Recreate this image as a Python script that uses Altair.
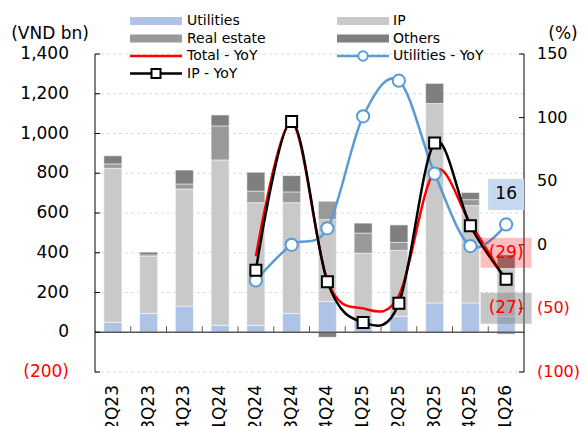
import altair as alt
import pandas as pd

# ---------------- data ----------------
quarters = ["2Q23", "3Q23", "4Q23", "1Q24", "2Q24", "3Q24",
            "4Q24", "1Q25", "2Q25", "3Q25", "4Q25", "1Q26"]
utilities = [50, 95, 132, 35, 35, 95, 155, 70, 80, 147, 147, 80]
ip = [775, 286, 589, 832, 617, 557, 412, 328, 332, 1004, 490, 240]
real_estate = [22, 8, 25, 171, 58, 54, 92, 101, 40, 0, 30, -10]
others = [41, 14, 70, 55, 95, 82, -25, 50, 88, 101, 36, 70]

yoy_quarters = ["2Q24", "3Q24", "4Q24", "1Q25", "2Q25", "3Q25", "4Q25", "1Q26"]
total_yoy = [-9, 96, -28, -50, -40, 58, 17, -29]
ip_yoy = [-20, 97, -29, -61, -46, 80, 15, -27]
util_yoy = [-28, 0, 13, 101, 129, 56, -1, 16]

left_ticks = [-200, 0, 200, 400, 600, 800, 1000, 1200, 1400]
right_ticks = [-100, -50, 0, 50, 100, 150]

segments = ["Utilities", "IP", "Real estate", "Others"]
seg_colors = ["#aec3e6", "#c9c9c9", "#999999", "#7f7f7f"]

# data labels of the last quarter
lab_values = [16, -29, -27]
lab_texts = ["16", "(29)", "(27)"]

FONT = "DejaVu Sans"
W, H = 429, 318
RED = "#ff0000"
BLUE = "#5b9bd5"

xscale = alt.Scale(domain=quarters, paddingInner=0, paddingOuter=0)
yl_scale = alt.Scale(domain=[-200, 1400], nice=False, zero=False)
yr_scale = alt.Scale(domain=[-100, 150], nice=False, zero=False)


def acc(v):
    return f"({abs(v):,})" if v < 0 else f"{v:,}"


one = pd.DataFrame({"a": [0]})

# ---------------- left group: bars + left axis ----------------
rows = []
for i, q in enumerate(quarters):
    for k, (s, vals) in enumerate(zip(segments, [utilities, ip, real_estate, others])):
        rows.append({"quarter": q, "segment": s, "order": k, "value": vals[i]})
bar_df = pd.DataFrame(rows)

lt_df = pd.DataFrame({"v": left_ticks,
                      "lbl": [acc(v) for v in left_ticks],
                      "col": [RED if v < 0 else "black" for v in left_ticks]})

grid = alt.Chart(lt_df).mark_rule(color="#d9d9d9", strokeWidth=1, strokeDash=[3, 3]).encode(
    x=alt.value(0), x2=alt.value(W),
    y=alt.Y("v:Q", scale=yl_scale, axis=None))

bars = alt.Chart(bar_df).mark_bar(size=18, stroke="white", strokeWidth=0.5).encode(
    x=alt.X("quarter:N", scale=xscale, axis=None),
    y=alt.Y("value:Q", stack="zero", scale=yl_scale, axis=None),
    color=alt.Color("segment:N", scale=alt.Scale(domain=segments, range=seg_colors),
                    legend=None),
    order=alt.Order("order:Q"),
)

zero_df = pd.DataFrame({"v": [0]})
zero_line = alt.Chart(zero_df).mark_rule(color="#595959", strokeWidth=1.5).encode(
    x=alt.value(0), x2=alt.value(W),
    y=alt.Y("v:Q", scale=yl_scale, axis=None))

xt_df = pd.DataFrame({"quarter": quarters[1:], "v": [0] * (len(quarters) - 1)})
x_ticks = alt.Chart(xt_df).mark_rule(color="#595959", strokeWidth=1, y2Offset=-6).encode(
    x=alt.X("quarter:N", bandPosition=0, scale=xscale, axis=None),
    y=alt.Y("v:Q", scale=yl_scale, axis=None),
    y2="v:Q",
)

l_ticks = alt.Chart(lt_df).mark_rule(color="black", strokeWidth=1).encode(
    x=alt.value(0), x2=alt.value(5),
    y=alt.Y("v:Q", scale=yl_scale, axis=None))

l_domain = alt.Chart(one).mark_rule(color="black", strokeWidth=1).encode(
    x=alt.value(0), y=alt.value(0), y2=alt.value(H))

l_labels = alt.Chart(lt_df).mark_text(font=FONT, fontSize=17, align="right",
                                      baseline="middle").encode(
    x=alt.value(-26),
    y=alt.Y("v:Q", scale=yl_scale, axis=None),
    text="lbl:N",
    color=alt.Color("col:N", scale=None))

xl_df = pd.DataFrame({"quarter": quarters})
x_labels = alt.Chart(xl_df).mark_text(font=FONT, fontSize=17, angle=270, align="right",
                                      baseline="middle", color="black").encode(
    x=alt.X("quarter:N", scale=xscale, axis=None),
    y=alt.value(H + 13),
    text="quarter:N")

left_group = alt.layer(grid, bars, zero_line, x_ticks, l_ticks, l_domain, l_labels, x_labels)

# ---------------- right group: YoY lines + right axis ----------------
yoy_df = pd.DataFrame({"quarter": yoy_quarters, "total": total_yoy,
                       "ipy": ip_yoy, "util": util_yoy})
xq = alt.X("quarter:N", scale=xscale, axis=None)

red_line = alt.Chart(yoy_df).mark_line(color=RED, strokeWidth=2.5, interpolate="cardinal").encode(
    x=xq, y=alt.Y("total:Q", scale=yr_scale, axis=None))
blue_line = alt.Chart(yoy_df).mark_line(color=BLUE, strokeWidth=2.5, interpolate="cardinal").encode(
    x=xq, y=alt.Y("util:Q", scale=yr_scale, axis=None))
blue_pts = alt.Chart(yoy_df).mark_point(shape="circle", filled=True, fill="white", stroke=BLUE,
                                        strokeWidth=2, size=150, opacity=1).encode(
    x=xq, y=alt.Y("util:Q", scale=yr_scale, axis=None))
black_line = alt.Chart(yoy_df).mark_line(color="black", strokeWidth=2.5, interpolate="cardinal").encode(
    x=xq, y=alt.Y("ipy:Q", scale=yr_scale, axis=None))
black_pts = alt.Chart(yoy_df).mark_point(shape="square", filled=True, fill="white", stroke="black",
                                         strokeWidth=2, size=121, opacity=1).encode(
    x=xq, y=alt.Y("ipy:Q", scale=yr_scale, axis=None))

rt_df = pd.DataFrame({"v": right_ticks,
                      "lbl": [acc(v) for v in right_ticks],
                      "col": [RED if v < 0 else "black" for v in right_ticks]})
r_ticks = alt.Chart(rt_df).mark_rule(color="black", strokeWidth=1).encode(
    x=alt.value(W), x2=alt.value(W - 5),
    y=alt.Y("v:Q", scale=yr_scale, axis=None))
r_domain = alt.Chart(one).mark_rule(color="black", strokeWidth=1).encode(
    x=alt.value(W), y=alt.value(0), y2=alt.value(H))
r_labels = alt.Chart(rt_df).mark_text(font=FONT, fontSize=16, align="left",
                                      baseline="middle").encode(
    x=alt.value(W + 13),
    y=alt.Y("v:Q", scale=yr_scale, axis=None),
    text="lbl:N",
    color=alt.Color("col:N", scale=None))

lab_layers = []
lab_styles = [
    # fill, opacity, text colour, y offset, box w, box h
    ("#c5d9f1", 1.0, "black", -30, 36, 31),
    (RED, 0.25, RED, -29, 51, 30),
    ("#808080", 0.45, RED, 29, 51, 31),
]
for val, txt, (fill, op, tcol, off, bw, bh) in zip(lab_values, lab_texts, lab_styles):
    ldf = pd.DataFrame({"quarter": ["1Q26"], "v": [val], "t": [txt]})
    r = bh / bw
    shape = f"M-1,-{r:.3f}H1V{r:.3f}H-1Z"
    box = alt.Chart(ldf).mark_point(shape=shape, size=bw * bw, filled=True, fill=fill,
                                    opacity=op, strokeWidth=0, yOffset=off).encode(
        x=xq, y=alt.Y("v:Q", scale=yr_scale, axis=None))
    txt_mark = alt.Chart(ldf).mark_text(font=FONT, fontSize=17, color=tcol, yOffset=off,
                                        align="center", baseline="middle").encode(
        x=xq, y=alt.Y("v:Q", scale=yr_scale, axis=None), text="t:N")
    lab_layers += [box, txt_mark]

right_group = alt.layer(red_line, blue_line, blue_pts, black_line, black_pts,
                        r_domain, r_ticks, r_labels, *lab_layers)

# ---------------- legend (drawn manually, pixel layout) ----------------
c1 = (35, 87, 92)
c2 = (242, 294, 298)
row_y = [-33, -15.5, 2, 19.5]
legend_items = [
    # label, column, row, kind, colour
    ("Utilities", c1, 0, "rect", seg_colors[0]),
    ("IP", c2, 0, "rect", seg_colors[1]),
    ("Real estate", c1, 1, "rect", seg_colors[2]),
    ("Others", c2, 1, "rect", seg_colors[3]),
    ("Total - YoY", c1, 2, "line", RED),
    ("Utilities - YoY", c2, 2, "circle", BLUE),
    ("IP - YoY", c1, 3, "square", "black"),
]
legend_layers = []
for label, (xa, xb, xt), row, kind, col in legend_items:
    yy = row_y[row]
    if kind == "rect":
        legend_layers.append(alt.Chart(one).mark_rect(color=col).encode(
            x=alt.value(xa), x2=alt.value(xb), y=alt.value(yy - 4), y2=alt.value(yy + 4)))
    else:
        legend_layers.append(alt.Chart(one).mark_rule(color=col, strokeWidth=2.5).encode(
            x=alt.value(xa), x2=alt.value(xb), y=alt.value(yy)))
        if kind in ("circle", "square"):
            legend_layers.append(alt.Chart(one).mark_point(
                shape=kind, filled=True, fill="white", stroke=col, strokeWidth=2,
                size=90 if kind == "circle" else 81, opacity=1).encode(
                x=alt.value((xa + xb) / 2), y=alt.value(yy)))
    legend_layers.append(alt.Chart(one).mark_text(
        text=label, font=FONT, fontSize=14, align="left", baseline="middle",
        color="black").encode(x=alt.value(xt), y=alt.value(yy)))

# axis unit titles
t_left = alt.Chart(one).mark_text(text="(VND bn)", font=FONT, fontSize=17, align="center",
                                  baseline="middle", color="black").encode(
    x=alt.value(-45), y=alt.value(-20))
t_right = alt.Chart(one).mark_text(text="(%)", font=FONT, fontSize=17, align="center",
                                   baseline="middle", color="black").encode(
    x=alt.value(468), y=alt.value(-20))

chart = alt.layer(left_group, right_group, *legend_layers, t_left, t_right).resolve_scale(
    y="independent"
).properties(
    width=W, height=H,
    autosize=alt.AutoSizeParams(type="none"),
    padding={"left": 87, "top": 46, "right": 55, "bottom": 80},
).configure_view(stroke=None)

chart.save("out.html", embed_options={"renderer": "svg", "actions": False})
